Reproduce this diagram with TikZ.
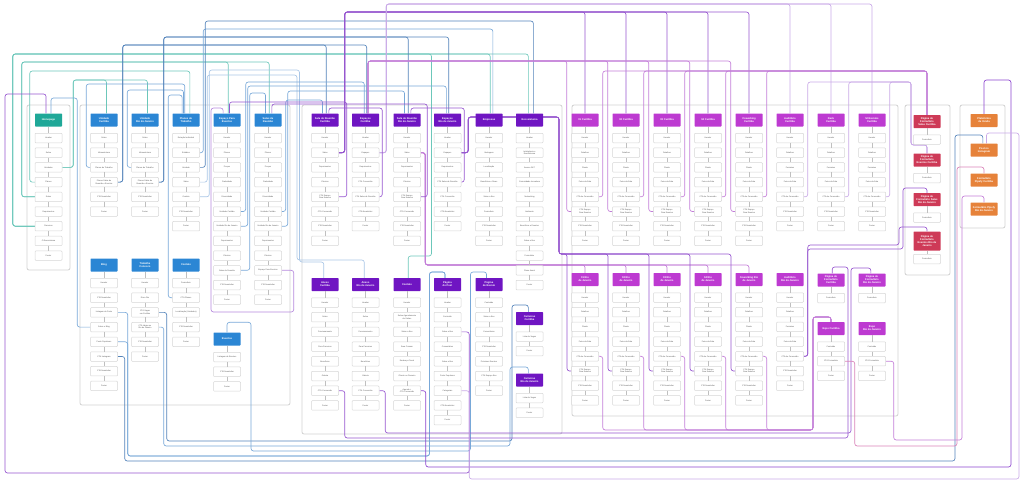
\documentclass[tikz,border=0pt]{standalone}
\usepackage{fontspec}
\setmainfont{Liberation Sans}
\usetikzlibrary{backgrounds}

\definecolor{hteal}{HTML}{1FA898}
\definecolor{hblue}{HTML}{2B86D4}
\definecolor{hpurple}{HTML}{6F15C2}
\definecolor{hmag}{HTML}{BD3AD1}
\definecolor{hred}{HTML}{CE3A57}
\definecolor{horange}{HTML}{E6823A}
\definecolor{lteal}{HTML}{6CC7BA}
\definecolor{lblue}{HTML}{78A8D8}
\definecolor{dblue}{HTML}{5383BA}
\definecolor{pblue}{HTML}{A9C6E6}
\definecolor{lpurple}{HTML}{9656CF}
\definecolor{ppurple}{HTML}{C9A9E7}
\definecolor{lmag}{HTML}{C37ED8}
\definecolor{lpink}{HTML}{D982B8}
\definecolor{gline}{HTML}{D6D6D6}

\tikzset{
  page/.style={minimum width=27pt, minimum height=13pt, inner sep=0.5pt, rounded corners=0.6pt,
    align=center, text=white, font=\fontsize{2.6}{3}\selectfont\bfseries},
  home/.style={page, fill=hteal},
  bluepg/.style={page, fill=hblue},
  purplepg/.style={page, fill=hpurple},
  magpg/.style={page, fill=hmag},
  redpg/.style={page, fill=hred},
  orangepg/.style={page, fill=horange},
  item/.style={draw=gline, fill=white, line width=0.5pt, rounded corners=0.8pt,
    minimum width=27pt, minimum height=9.5pt, inner sep=0.3pt, align=center,
    text=black!65, font=\fontsize{2}{2.4}\selectfont},
  stem/.style={draw=black!25, line width=0.4pt},
  group/.style={draw=black!18, line width=0.8pt, rounded corners=2pt},
  link/.style={line width=0.65pt, rounded corners=2.5pt},
}

% a page with its sections below it
\newcommand{\sitecol}[6]{%
  \node[#4] (#1) at (#2,#3) {#5};
  \foreach \t [count=\i] in {#6} {%
    \pgfmathtruncatemacro\prevnum{\i-1}%
    \node[item] (#1-\i) at (#2,{#3+18+14.7*(\i-1)}) {\t};
    \ifnum\i=1 \draw[stem] (#1.south) -- (#1-1.north);
    \else \draw[stem] (#1-\prevnum.south) -- (#1-\i.north); \fi
  }%
}
% section -> lane -> bus -> page
\newcommand{\sitelink}[5]{\draw[link,#1] (#2) -- ++(#3,0) |- (#5 |- 0,#4) -- (#5);}

\begin{document}
\begin{tikzpicture}[x=1pt,y=-1pt]
\useasboundingbox (0,0) rectangle (1024,483);

% homepage
\sitecol{hp}{48.5}{120}{home}{Homepage}{Header,Sobre,Unidades,Planos,Salas,Depoimentos,Parceiros,O Ecossistema,Footer}

% blue pages
\sitecol{ucur}{104}{120}{bluepg}{Unidade\\Curitiba}{Sobre,Infraestrutura,Planos de Trabalho,{Planos Salas de\\Reunião e Eventos},CTA Newsletter,Footer}
\sitecol{urj}{145}{120}{bluepg}{Unidade\\Rio de Janeiro}{Sobre,Infraestrutura,Planos de Trabalho,{Planos Salas de\\Reunião e Eventos},CTA Newsletter,Footer}
\sitecol{ptrab}{186}{120}{bluepg}{Planos de\\Trabalho}{Estação Individual,Estúdios,Unidade,Salas,Contato,CTA Newsletter,Footer}
\sitecol{esp}{227}{120}{bluepg}{Espaço Para\\Eventos}{Header,Planos,Preços,Praticidade,Diversidade,Unidade Curitiba,Unidade Rio de Janeiro,Depoimentos,Clientes,Salas de Reunião,CTA Newsletter,Footer}
\sitecol{sal}{268}{120}{bluepg}{Salas de\\Reunião}{Header,Planos,Preços,Praticidade,Diversidade,Unidade Curitiba,Unidade Rio de Janeiro,Depoimentos,Clientes,Espaço Para Eventos,CTA Newsletter,Footer}
\sitecol{blog}{104}{265}{bluepg}{Blog}{Header,CTA Newsletter,Listagem de Posts,Sobre o Blog,Posts Populares,CTA Instagram,CTA Newsletter,Footer}
\sitecol{trab}{145}{265}{bluepg}{Trabalhe\\Conosco}{Header,Dia a Dia,{CTA Vagas\\em Curitiba},{CTA Vagas no\\Rio de Janeiro},CTA Newsletter,Footer}
\sitecol{cont}{186}{265}{bluepg}{Contato}{Formulário,CTA Planos,Localização (Unidades),CTA Newsletter,Footer}
\sitecol{evts}{227}{339}{bluepg}{Eventos}{Listagem de Eventos,CTA Newsletter,Footer}

% purple pages
\sitecol{srcur}{325}{120}{purplepg}{Sala de Reunião\\Curitiba}{Header,Salas,Depoimentos,Clientes,{CTA Espaço\\Para Eventos},CTA Conversão,CTA Newsletter,Footer}
\sitecol{escur}{365.5}{120}{purplepg}{Espaços\\Curitiba}{Header,Espaços,Depoimentos,CTA Conversão,CTA Salas de Reunião,CTA Newsletter,Footer}
\sitecol{srrj}{407}{120}{purplepg}{Sala de Reunião\\Rio de Janeiro}{Header,Salas,Depoimentos,Clientes,{CTA Espaço\\Para Eventos},CTA Conversão,CTA Newsletter,Footer}
\sitecol{esrj}{447.5}{120}{purplepg}{Espaços\\Rio de Janeiro}{Header,Espaços,Depoimentos,CTA Salas de Reunião,CTA Conversão,CTA Newsletter,Footer}
\sitecol{emp}{489}{120}{purplepg}{Empresas}{Header,Vantagens,Localização,Benefícios e Dicas,Sobre a Box,Formulário,CTA Newsletter,Footer}
\sitecol{eco}{529.5}{120}{purplepg}{Ecossistema}{Header,{Inteligência e\\Ecossistema},Acesso 24/7,Comunidade Inovadora,Networking,Ambiente,Benefícios e Eventos,Sobre a Box,Formulário,Plano Anual,Footer}
\sitecol{anxcur}{325}{284.5}{purplepg}{Anexo\\Curitiba}{Header,Sobre,Funcionamento,Para Parceiros,Benefícios,Galeria,CTA Conversão,Footer}
\sitecol{anxrj}{365.5}{284.5}{purplepg}{Anexo\\Rio de Janeiro}{Header,Sobre,Funcionamento,Para Parceiros,Benefícios,Galeria,CTA Conversão,Footer}
\sitecol{cont2}{407}{284.5}{purplepg}{Contato}{Header,{Sobre Agendamento\\de Visitas},Sobre a Box,Área Comum,Endereço Fiscal,Cliente ou Parceiro,{Agenda +\\CTA Conversão},Footer}
\sitecol{pgpost}{447.5}{284.5}{purplepg}{Página\\do Post}{Header,Conteúdo,Sobre a Box,Comentários,Sobre a Box,Posts Populares,Categorias,CTA Newsletter,Footer}
\sitecol{pgevt}{489}{284.5}{purplepg}{Página\\de Evento}{Conteúdo,Sobre a Box,Comentários,CTA Newsletter,Próximos Eventos,CTA Espaço Box,Footer}
\sitecol{carcur}{529.5}{318.5}{purplepg}{Carreiras\\Curitiba}{Lista de Vagas,Footer}
\sitecol{carrj}{529.5}{380}{purplepg}{Carreiras\\Rio de Janeiro}{Lista de Vagas,Footer}

% magenta pages
\sitecol{r1c}{585}{120}{magpg}{01 Curitiba}{Header,Detalhes,Planta,Fotos da Sala,CTA de Conversão,{CTA Espaço\\Para Eventos},CTA Newsletter,Footer}
\sitecol{r2c}{626}{120}{magpg}{02 Curitiba}{Header,Detalhes,Planta,Fotos da Sala,CTA de Conversão,{CTA Espaço\\Para Eventos},CTA Newsletter,Footer}
\sitecol{r3c}{667}{120}{magpg}{03 Curitiba}{Header,Detalhes,Planta,Fotos da Sala,CTA de Conversão,{CTA Espaço\\Para Eventos},CTA Newsletter,Footer}
\sitecol{r4c}{708}{120}{magpg}{04 Curitiba}{Header,Detalhes,Planta,Fotos da Sala,CTA de Conversão,{CTA Espaço\\Para Eventos},CTA Newsletter,Footer}
\sitecol{cwc}{749}{120}{magpg}{Coworking\\Curitiba}{Header,Detalhes,Planta,Fotos da Sala,CTA de Conversão,{CTA Espaço\\Para Eventos},CTA Newsletter,Footer}
\sitecol{audc}{790}{120}{magpg}{Auditório\\Curitiba}{Header,Detalhes,Formatos,Fotos da Sala,CTA de Conversão,CTA Newsletter,Footer}
\sitecol{deckc}{831}{120}{magpg}{Deck\\Curitiba}{Header,Detalhes,Formatos,Fotos da Sala,CTA de Conversão,CTA Newsletter,Footer}
\sitecol{evc}{872}{120}{magpg}{Sl Eventos\\Curitiba}{Header,Detalhes,Formatos,Fotos da Sala,CTA de Conversão,CTA Newsletter,Footer}
\sitecol{r1r}{585}{279.5}{magpg}{01 Rio\\de Janeiro}{Header,Detalhes,Planta,Fotos da Sala,CTA de Conversão,{CTA Espaço\\Para Eventos},CTA Newsletter,Footer}
\sitecol{r2r}{626}{279.5}{magpg}{02 Rio\\de Janeiro}{Header,Detalhes,Planta,Fotos da Sala,CTA de Conversão,{CTA Espaço\\Para Eventos},CTA Newsletter,Footer}
\sitecol{r3r}{667}{279.5}{magpg}{03 Rio\\de Janeiro}{Header,Detalhes,Planta,Fotos da Sala,CTA de Conversão,{CTA Espaço\\Para Eventos},CTA Newsletter,Footer}
\sitecol{r4r}{708}{279.5}{magpg}{04 Rio\\de Janeiro}{Header,Detalhes,Planta,Fotos da Sala,CTA de Conversão,{CTA Espaço\\Para Eventos},CTA Newsletter,Footer}
\sitecol{cwr}{749}{279.5}{magpg}{Coworking Rio\\de Janeiro}{Header,Detalhes,Planta,Fotos da Sala,CTA de Conversão,{CTA Espaço\\Para Eventos},CTA Newsletter,Footer}
\sitecol{audr}{790}{279.5}{magpg}{Auditório\\Rio de Janeiro}{Header,Detalhes,Formatos,Fotos da Sala,CTA de Conversão,CTA Newsletter,Footer}
\sitecol{pfcur}{831}{280}{magpg}{Página de\\Formulário\\Curitiba}{Formulário}
\sitecol{pfrj}{872}{280}{magpg}{Página de\\Formulário\\Rio de Janeiro}{Formulário}
\sitecol{expc}{831}{328.5}{magpg}{Expo Curitiba}{Conteúdo,CTA Formulário,Footer}
\sitecol{exprj}{872}{328.5}{magpg}{Expo\\Rio de Janeiro}{Conteúdo,CTA Formulário,Footer}

% form pages
\sitecol{fsc}{927}{121.5}{redpg}{Página de\\Formulário\\Salas Curitiba}{Formulário}
\sitecol{fec}{927}{160}{redpg}{Página de\\Formulário\\Eventos Curitiba}{Formulário}
\sitecol{fsr}{927}{199.5}{redpg}{Página de\\Formulário Salas\\Rio de Janeiro}{Formulário}
\sitecol{fer}{927}{241}{redpg,minimum height=19pt}{Página de\\Formulário\\Eventos Rio de\\Janeiro}{Formulário}

% external
\node[orangepg] (plat) at (984,120.5) {Plataforma\\de Venda};
\node[orangepg] (insta) at (984,150) {Post no\\Instagram};
\node[orangepg] (pipc) at (984,180) {Formulário\\Pipefy Curitiba};
\node[orangepg] (pipr) at (984,209) {Formulário Pipefy\\Rio de Janeiro};

\begin{pgfonlayer}{background}
\draw[group] (27,105) rectangle (70,270);
\draw[group] (80,105) rectangle (290,405);
\draw[group] (302,105) rectangle (562,434);
\draw[group] (572,105) rectangle (898,416);
\draw[group] (905,105) rectangle (950,275);
\draw[group] (960,105) rectangle (1005,228);

% teal
\sitelink{lteal}{hp-7.west}{-22}{54}{emp.80}
\sitelink{lteal}{hp-7.west}{-22}{54}{eco.100}
\draw[link,lteal] (hp-7.west) -- ++(-22,0) |- (431.5,54) |- (cont2.80 |- 0,256) -- (cont2.80);
\sitelink{lteal}{hp-5.west}{-13}{62}{esp.80}
\sitelink{lteal}{hp-5.west}{-13}{62}{sal.80}
\sitelink{lteal}{hp-4.west}{-5}{71}{ptrab.60}
\sitelink{lteal}{hp-3.east}{11}{80}{ucur.70}
\sitelink{lteal}{hp-3.east}{11}{80}{urj.70}

% blue
\sitelink{lblue}{ucur-3.west}{-4}{84}{ptrab.100}
\sitelink{lblue}{urj-3.west}{-4}{90}{ptrab.110}
\sitelink{dblue}{ucur-4.east}{5}{45}{srcur.80}
\sitelink{dblue}{ucur-4.east}{5}{45}{escur.80}
\sitelink{dblue}{urj-4.east}{5}{37}{srrj.80}
\sitelink{dblue}{urj-4.east}{5}{37}{esrj.80}
\sitelink{lblue}{cont-2.west}{-4}{95}{ptrab.120}
\sitelink{lblue}{blog-4.west}{-13}{98}{hp.70}
\sitelink{lblue}{ptrab-2.east}{3.5}{29}{emp.60}
\sitelink{dblue}{ptrab-3.east}{5.5}{21}{eco.60}
\draw[link,pblue] (ptrab-4.east) -- ++(7.5,0) |- (297,75) |- (anxrj.100 |- 0,260) -- (anxrj.100);
\draw[link,pblue] (ptrab-5.east) -- ++(9.5,0) |- (299.5,70) |- (anxcur.100 |- 0,262) -- (anxcur.100);
\sitelink{lblue}{esp-6.east}{5}{82}{escur.100}
\sitelink{lblue}{esp-7.east}{7}{86}{esrj.100}
\sitelink{lblue}{esp-10.east}{9}{93}{sal.110}
\sitelink{lblue}{sal-6.east}{4}{100}{srcur.110}
\sitelink{lblue}{sal-7.east}{6}{91}{srrj.110}
\draw[link,dblue] (trab-3.east) -- ++(8,0) |- (512,441) |- (carcur.100 |- 0,305) -- (carcur.100);
\draw[link,lblue] (trab-4.east) -- ++(5,0) |- (510,446) |- (carrj.100 |- 0,367) -- (carrj.100);
\draw[link,lblue] (blog-3.east) -- ++(10,0) |- (429.5,456) |- (pgpost.110 |- 0,272) -- (pgpost.110);
\draw[link,lblue] (blog-5.east) -- ++(10,0) |- (429.5,456) |- (pgpost.110 |- 0,272) -- (pgpost.110);
\draw[link,dblue] (blog-6.east) -- ++(7,0) |- (955,461) |- (insta.100 |- 0,135) -- (insta.100);
\draw[link,lblue] (evts.north) -- ++(0,-10) -| (251,451) -| (470.5,272) -| (pgevt.110);

% purple
\draw[link,lpurple!70] (sal-10.east) -- ++(12,0) |- (211,312) |- (esp.120 |- 0,108) -- (esp.120);
\sitelink{lpurple}{srcur-2.east}{6}{12}{r1c.north}
\sitelink{lpurple}{srcur-2.east}{6}{12}{r2c.north}
\sitelink{lpurple}{srcur-2.east}{6}{12}{r3c.north}
\sitelink{lpurple}{srcur-2.east}{6}{12}{r4c.north}
\sitelink{lpurple}{srcur-2.east}{6}{12}{cwc.north}
\sitelink{ppurple}{escur-2.east}{7}{4}{audc.north}
\sitelink{ppurple}{escur-2.east}{7}{4}{deckc.north}
\sitelink{ppurple}{escur-2.east}{7}{4}{evc.north}
\sitelink{lmag}{srrj-2.east}{4.5}{265}{r1r.north}
\sitelink{lmag}{srrj-2.east}{4.5}{265}{r2r.north}
\sitelink{lmag}{srrj-2.east}{4.5}{265}{r3r.north}
\sitelink{lmag}{srrj-2.east}{4.5}{265}{r4r.north}
\sitelink{lmag}{srrj-2.east}{4.5}{265}{cwr.north}
\draw[link,lpurple] (esrj-2.east) -- ++(7,0) |- (559,117) |- (567,254) |- (r1r-6.west);
\draw[link,lpurple] (esrj-2.east) -- ++(7,0) |- (559,117) |- (608,254) |- (r2r-6.west);
\draw[link,lpurple] (esrj-2.east) -- ++(7,0) |- (559,117) |- (649,254) |- (r3r-6.west);
\draw[link,lpurple] (esrj-2.east) -- ++(7,0) |- (559,117) |- (690,254) |- (r4r-6.west);
\draw[link,lpurple] (esrj-2.east) -- ++(7,0) |- (559,117) |- (731,254) |- (cwr-6.west);
\sitelink{lmag}{r1c-6.west}{-4.5}{61}{escur.70}
\sitelink{lmag}{r2c-6.west}{-4.5}{61}{escur.70}
\sitelink{lmag}{r3c-6.west}{-4.5}{61}{escur.70}
\sitelink{lmag}{r4c-6.west}{-4.5}{61}{escur.70}
\sitelink{lmag}{cwc-6.west}{-4.5}{61}{escur.70}
\sitelink{lmag}{r1c-5.east}{4}{71}{fsc.north}
\sitelink{lmag}{r2c-5.east}{4}{71}{fsc.north}
\sitelink{lmag}{r3c-5.east}{4}{71}{fsc.north}
\sitelink{lmag}{r4c-5.east}{4}{71}{fsc.north}
\sitelink{lmag}{cwc-5.east}{4}{71}{fsc.north}
\draw[link,ppurple] (audc-5.east) -- ++(4,0) |- (911,82) |- (fec.north |- 0,145) -- (fec.north);
\draw[link,ppurple] (deckc-5.east) -- ++(4,0) |- (911,82) |- (fec.north |- 0,145) -- (fec.north);
\draw[link,ppurple] (evc-5.east) -- ++(4,0) |- (911,82) |- (fec.north |- 0,145) -- (fec.north);
\draw[link,lmag] (r1r-5.east) -- ++(4,0) |- (813,430) |- (expc.north |- 0,317) -- (expc.north);
\draw[link,lmag] (r2r-5.east) -- ++(4,0) |- (813,430) |- (expc.north |- 0,317) -- (expc.north);
\draw[link,lmag] (r3r-5.east) -- ++(4,0) |- (813,430) |- (expc.north |- 0,317) -- (expc.north);
\draw[link,lmag] (r4r-5.east) -- ++(4,0) |- (813,430) |- (expc.north |- 0,317) -- (expc.north);
\draw[link,lmag] (cwr-5.east) -- ++(4,0) |- (813,430) |- (expc.north |- 0,317) -- (expc.north);
\draw[link,lpurple] (audr-5.east) -- ++(4,0) |- (903,249) |- (fsr.north |- 0,188) -- (fsr.north);
\draw[link,lpurple] (audr-5.east) -- ++(4,0) |- (899,245) |- (fer.north |- 0,227) -- (fer.north);
\draw[link,lpurple] (anxcur-7.east) -- ++(6,0) |- (848,438) |- (pfcur.80 |- 0,267) -- (pfcur.80);
\draw[link,lpurple] (anxrj-7.east) -- ++(6,0) |- (851,433) |- (pfrj.100 |- 0,268) -- (pfrj.100);
\draw[link,hpurple!80] (cont2-7.east) -- ++(5,0) |- (1011,467) |- (plat.north |- 0,80) -- (plat.north);
\draw[link,lpurple] (pgpost-3.east) -- ++(8,0) |- (5,473) |- (hp.110 |- 0,94) -- (hp.110);
\draw[link,ppurple] (pgpost-7.east) -- ++(8,0) |- (1019,479) |- (insta.70 |- 0,133) -- (insta.70);
\draw[link,lpink] (expc-2.east) -- ++(10,0) |- (957,446) |- (pipc.north |- 0,167) -- (pipc.north);
\draw[link,lmag] (exprj-2.east) -- ++(8,0) |- (962,440) |- (pipr.north |- 0,196) -- (pipr.north);
\sitelink{lpurple}{srcur-5.east}{8}{102}{esp.70}
\sitelink{lpurple}{srrj-5.east}{6.5}{104}{sal.60}
\sitelink{lpurple}{escur-5.east}{3}{108}{srcur.60}
\sitelink{lpurple}{esrj-4.east}{3}{108}{srrj.60}
\end{pgfonlayer}
\end{tikzpicture}
\end{document}
